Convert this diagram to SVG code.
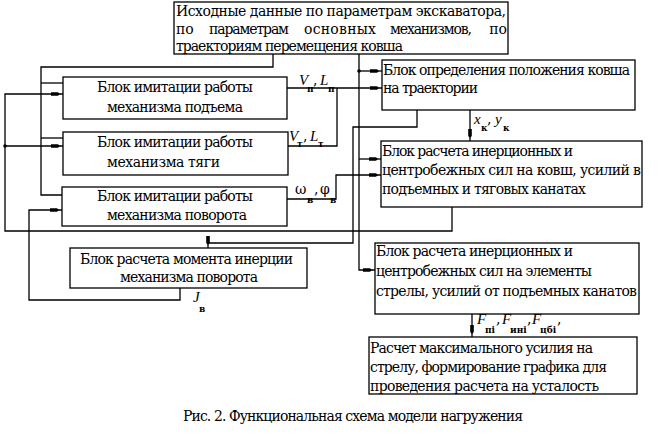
<svg xmlns="http://www.w3.org/2000/svg" width="667" height="434" viewBox="0 0 667 434">
<style>
.box{fill:#fff;stroke:#000;stroke-width:1.3}
.ln{fill:none;stroke:#000;stroke-width:1.3}
text{font-family:"DejaVu Serif","Liberation Serif",serif;font-size:14px;fill:#000}
.it{font-family:"Liberation Serif","DejaVu Serif",serif;font-style:italic;font-size:15px}
.sb{font-size:9px;font-weight:bold}
</style>
<defs>
<marker id="ah" markerUnits="userSpaceOnUse" markerWidth="14" markerHeight="8" viewBox="-13 -4 14 8" refX="0" refY="0" orient="auto">
<path d="M-12,-1.8 L-5,-1.8 L-3,0 L-5,1.8 L-12,1.8 Z" fill="#000"/>
</marker>
</defs>
<rect width="667" height="434" fill="#fff"/>

<g id="connectors">
<polyline class="ln" points="273,54 273,67 41,67 41,195 62,195"/>
<line class="ln" x1="41" y1="83" x2="63" y2="83"/>
<line class="ln" x1="41" y1="138" x2="63" y2="138"/>
<polyline class="ln" points="359,54 359,270 375,270" marker-end="url(#ah)"/>
<line class="ln" x1="359" y1="71" x2="382" y2="71" marker-end="url(#ah)"/>
<circle cx="359" cy="71" r="1.8" fill="#000"/>
<line class="ln" x1="359" y1="159" x2="381" y2="159" marker-end="url(#ah)"/>
<line class="ln" x1="287" y1="88" x2="382" y2="88" marker-end="url(#ah)"/>
<polyline class="ln" points="288,146 337,146 337,88"/>
<polyline class="ln" points="287,199 336,199 336,175 381,175" marker-end="url(#ah)"/>
<polyline class="ln" points="417,110 417,127 353,127 353,243 208,243 208,248" marker-end="url(#ah)"/>
<line class="ln" x1="470" y1="110" x2="470" y2="141" marker-end="url(#ah)"/>
<polyline class="ln" points="452,207 452,231 5,231 5,94 63,94" marker-end="url(#ah)"/>
<line class="ln" x1="5" y1="146" x2="63" y2="146" marker-end="url(#ah)"/>
<circle cx="5" cy="146" r="1.8" fill="#000"/>
<polyline class="ln" points="180,288 180,300 29,300 29,210 62,210" marker-end="url(#ah)"/>
<line class="ln" x1="472" y1="314" x2="472" y2="337" marker-end="url(#ah)"/>
</g>

<g id="labels">
<text x="299" y="85" class="it">V</text><text x="307" y="92" class="sb">п</text><text x="313" y="85">,</text>
<text x="320" y="85" class="it">L</text><text x="328" y="92" class="sb">п</text>
<text x="289" y="141" class="it">V</text><text x="297" y="147" class="sb">т</text><text x="303" y="141">,</text>
<text x="310" y="141" class="it">L</text><text x="318" y="147" class="sb">т</text>
<text x="295" y="194">ω</text><text x="307" y="203" class="sb">в</text><text x="314" y="194">,</text>
<text x="320" y="194">φ</text><text x="330" y="203" class="sb">в</text>
<text x="474" y="124" class="it">x</text><text x="481" y="131" class="sb">к</text><text x="487" y="124">,</text>
<text x="495" y="124" class="it">y</text><text x="503" y="131" class="sb">к</text>
<text x="477" y="324" class="it">F</text><text x="485" y="333" class="sb">пi</text><text x="496" y="324">,</text>
<text x="502" y="324" class="it">F</text><text x="510" y="333" class="sb">инi</text><text x="527" y="324">,</text>
<text x="532" y="324" class="it">F</text><text x="540" y="333" class="sb">цбi</text><text x="557" y="324">,</text>
<text x="193" y="302" class="it">J</text><text x="199" y="312" class="sb">в</text>
</g>

<g id="n-input">
<rect class="box" x="174" y="2" width="334" height="52"/>
<text x="176" y="16" textLength="330" lengthAdjust="spacing">Исходные данные по параметрам экскаватора,</text>
<text x="176" y="34">по</text>
<text x="209" y="34" textLength="80" lengthAdjust="spacing">параметрам</text>
<text x="304" y="34" textLength="72" lengthAdjust="spacing">основных</text>
<text x="390" y="34" textLength="82" lengthAdjust="spacing">механизмов,</text>
<text x="507" y="34" text-anchor="end">по</text>
<text x="176" y="51" textLength="227" lengthAdjust="spacing">траекториям перемещения ковша</text>
</g>

<g id="n-lift">
<rect class="box" x="63" y="77" width="224" height="42"/>
<text x="97" y="92" textLength="156" lengthAdjust="spacing">Блок имитации работы</text>
<text x="107" y="112" textLength="136" lengthAdjust="spacing">механизма подъема</text>
</g>

<g id="n-drag">
<rect class="box" x="63" y="132" width="225" height="43"/>
<text x="97" y="147" textLength="156" lengthAdjust="spacing">Блок имитации работы</text>
<text x="107" y="167" textLength="113" lengthAdjust="spacing">механизма тяги</text>
</g>

<g id="n-swing">
<rect class="box" x="62" y="187" width="225" height="39"/>
<text x="97" y="201" textLength="156" lengthAdjust="spacing">Блок имитации работы</text>
<text x="107" y="220" textLength="140" lengthAdjust="spacing">механизма поворота</text>
</g>

<g id="n-position">
<rect class="box" x="382" y="60" width="253" height="50"/>
<text x="383" y="75" textLength="247" lengthAdjust="spacing">Блок определения положения ковша</text>
<text x="383" y="93" textLength="95" lengthAdjust="spacing">на траектории</text>
</g>

<g id="n-bucket">
<rect class="box" x="381" y="141" width="261" height="66"/>
<text x="382" y="156" textLength="191" lengthAdjust="spacing">Блок расчета инерционных и</text>
<text x="382" y="175" textLength="259" lengthAdjust="spacing">центробежных сил на ковш, усилий в</text>
<text x="382" y="194" textLength="204" lengthAdjust="spacing">подъемных и тяговых канатах</text>
</g>

<g id="n-inertia">
<rect class="box" x="70" y="248" width="237" height="40"/>
<text x="80" y="264" textLength="213" lengthAdjust="spacing">Блок расчета момента инерции</text>
<text x="120" y="282" textLength="138" lengthAdjust="spacing">механизма поворота</text>
</g>

<g id="n-boom">
<rect class="box" x="375" y="243" width="264" height="71"/>
<text x="376" y="256" textLength="197" lengthAdjust="spacing">Блок расчета инерционных и</text>
<text x="376" y="276" textLength="216" lengthAdjust="spacing">центробежных сил на элементы</text>
<text x="376" y="296" textLength="261" lengthAdjust="spacing">стрелы, усилий от подъемных канатов</text>
</g>

<g id="n-result">
<rect class="box" x="369" y="337" width="268" height="57"/>
<text x="370" y="353" textLength="223" lengthAdjust="spacing">Расчет максимального усилия на</text>
<text x="370" y="372" textLength="237" lengthAdjust="spacing">стрелу, формирование графика для</text>
<text x="370" y="391" textLength="229" lengthAdjust="spacing">проведения расчета на усталость</text>
</g>

<text x="183" y="421" textLength="340" lengthAdjust="spacing">Рис. 2. Функциональная схема модели нагружения</text>
</svg>
